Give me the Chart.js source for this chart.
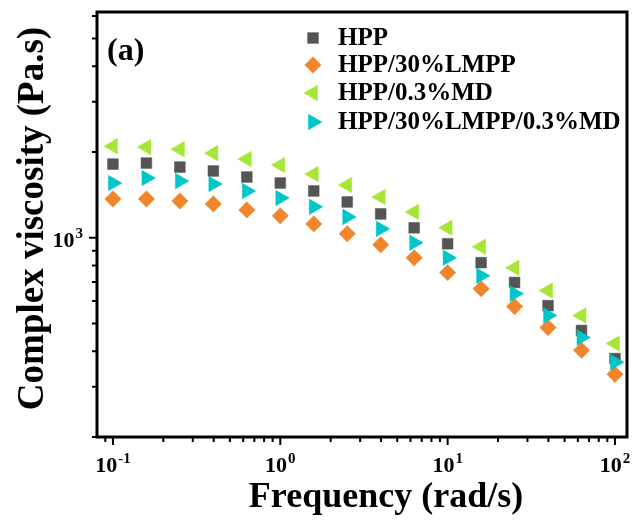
<!DOCTYPE html>
<html>
<head>
<meta charset="utf-8">
<script src="https://cdn.jsdelivr.net/npm/chart.js@4/dist/chart.umd.min.js"></script>
<style>
  html, body { margin: 0; padding: 0; background: #ffffff; }
  #wrap { width: 632px; height: 521px; }
</style>
</head>
<body>
<div id="wrap"><canvas id="c" width="632" height="521"></canvas></div>
<script>
// Angular frequency sweep (rad/s)
const frequency = [0.1, 0.1585, 0.2512, 0.3981, 0.631, 1, 1.585, 2.512, 3.981, 6.31, 10, 15.85, 25.12, 39.81, 63.1, 100];

// Complex viscosity (Pa.s) for each formulation
const hpp       = [1814, 1829, 1771, 1716, 1634, 1557, 1460, 1336, 1213, 1084, 953, 818, 697, 578, 473, 377];
const hppLmpp   = [1369, 1369, 1347, 1315, 1253, 1194, 1119, 1033, 945, 851, 755, 663, 574, 484, 403, 332];
const hppMd     = [2097, 2081, 2047, 1982, 1889, 1800, 1674, 1532, 1391, 1233, 1084, 930, 785, 653, 534, 426];
const hppLmppMd = [1557, 1621, 1582, 1544, 1460, 1380, 1284, 1184, 1075, 961, 851, 736, 637, 534, 447, 366];

const seriesNames = ['HPP', 'HPP/30%LMPP', 'HPP/0.3%MD', 'HPP/30%LMPP/0.3%MD'];
const xTickExponents = [-1, 0, 1, 2];
const yTickExponents = [3];
const panelLabel = '(a)';
const xTitle = 'Frequency (rad/s)';
const yTitle = 'Complex viscosity (Pa.s)';

const SERIF = '"Liberation Serif", "Times New Roman", serif';

function toPoints(ys) {
  return frequency.map((f, i) => ({ x: f, y: ys[i] }));
}

const datasets = [
  { label: seriesNames[0], data: toPoints(hpp), pointStyle: 'rect', pointRadius: 7.6,
    backgroundColor: '#555555', borderColor: '#555555', borderWidth: 0.5, order: 4 },
  { label: seriesNames[1], data: toPoints(hppLmpp), pointStyle: 'rectRot', pointRadius: 8.2,
    backgroundColor: '#f0852d', borderColor: '#f0852d', borderWidth: 0.5, order: 3 },
  { label: seriesNames[2], data: toPoints(hppMd), pointStyle: 'triangle', pointRotation: -90, pointRadius: 9,
    backgroundColor: '#a6e636', borderColor: '#a6e636', borderWidth: 0.5, order: 2 },
  { label: seriesNames[3], data: toPoints(hppLmppMd), pointStyle: 'triangle', pointRotation: 90, pointRadius: 9,
    backgroundColor: '#00c6c8', borderColor: '#00c6c8', borderWidth: 0.5, order: 1 }
];
datasets.forEach(d => { d.showLine = false; d.pointHoverRadius = d.pointRadius; d.clip = false; });

function drawMarker(ctx, ds, x, y) {
  const opts = {
    pointStyle: ds.pointStyle, rotation: ds.pointRotation || 0,
    radius: ds.pointRadius, borderWidth: ds.borderWidth
  };
  ctx.save();
  ctx.fillStyle = ds.backgroundColor;
  ctx.strokeStyle = ds.borderColor;
  ctx.lineWidth = ds.borderWidth;
  if (Chart.helpers && Chart.helpers.drawPoint) {
    Chart.helpers.drawPoint(ctx, opts, x, y);
  } else {
    ctx.beginPath(); ctx.arc(x, y, ds.pointRadius * 0.7, 0, Math.PI * 2); ctx.fill();
  }
  ctx.restore();
}

function powerLabel(ctx, exp, x, y, align) {
  const base = '10', sup = String(exp);
  ctx.font = 'bold 22px ' + SERIF;
  const bw = ctx.measureText(base).width;
  ctx.font = 'bold 15px ' + SERIF;
  const ew = ctx.measureText(sup).width;
  const total = bw + ew + 1;
  let start = align === 'right' ? x - total : x - total / 2;
  ctx.textAlign = 'left';
  ctx.textBaseline = 'alphabetic';
  ctx.font = 'bold 22px ' + SERIF;
  ctx.fillText(base, start, y);
  ctx.font = 'bold 15px ' + SERIF;
  ctx.fillText(sup, start + bw + 1, y - 9);
}

const decorations = {
  id: 'decorations',
  afterDraw(chart) {
    const ctx = chart.ctx;
    const a = chart.chartArea;
    const xs = chart.scales.x, ys = chart.scales.y;
    ctx.save();
    ctx.fillStyle = '#000';
    ctx.strokeStyle = '#000';

    // frame
    ctx.lineWidth = 3;
    ctx.strokeRect(a.left, a.top, a.right - a.left, a.bottom - a.top);

    // log ticks, outward, longer at decades
    ctx.lineWidth = 2;
    const tickSet = (scale, cb) => {
      const lo = Math.floor(Math.log10(scale.min)), hi = Math.ceil(Math.log10(scale.max));
      for (let e = lo; e <= hi; e++) {
        for (let k = 1; k <= 9; k++) {
          const v = k * Math.pow(10, e);
          if (v < scale.min * 0.999 || v > scale.max * 1.001) continue;
          cb(scale.getPixelForValue(v), k === 1 ? 7 : 4);
        }
      }
    };
    ctx.beginPath();
    tickSet(xs, (px, len) => { ctx.moveTo(px, a.bottom + 1); ctx.lineTo(px, a.bottom + 1 + len); });
    tickSet(ys, (py, len) => { ctx.moveTo(a.left - 1, py); ctx.lineTo(a.left - 1 - len, py); });
    ctx.stroke();

    // decade labels
    xTickExponents.forEach(e => {
      const px = xs.getPixelForValue(Math.pow(10, e));
      powerLabel(ctx, e, px, a.bottom + 35, 'center');
    });
    yTickExponents.forEach(e => {
      const py = ys.getPixelForValue(Math.pow(10, e));
      powerLabel(ctx, e, a.left - 14, py + 9, 'right');
    });

    // axis titles
    ctx.font = 'bold 36px ' + SERIF;
    ctx.textAlign = 'center';
    ctx.textBaseline = 'alphabetic';
    ctx.fillText(xTitle, (a.left + a.right) / 2 + 24, a.bottom + 70);
    ctx.save();
    ctx.font = 'bold 37px ' + SERIF;
    ctx.translate(43, (a.top + a.bottom) / 2 - 6);
    ctx.rotate(-Math.PI / 2);
    ctx.fillText(yTitle, 0, 0);
    ctx.restore();

    // panel label
    ctx.font = 'bold 32px ' + SERIF;
    ctx.textAlign = 'left';
    ctx.fillText(panelLabel, a.left + 10, a.top + 48);

    // legend
    const rowY = [26, 53, 81, 110];
    chart.data.datasets.forEach((ds, i) => {
      const y = a.top + rowY[i];
      drawMarker(ctx, ds, a.left + 216, y);
      ctx.fillStyle = '#000';
      ctx.font = 'bold 25px ' + SERIF;
      ctx.textAlign = 'left';
      ctx.textBaseline = 'middle';
      ctx.fillText(ds.label, a.left + 241, y + 1);
    });
    ctx.restore();
  }
};

new Chart(document.getElementById('c'), {
  type: 'scatter',
  data: { datasets },
  options: {
    responsive: false,
    animation: false,
    devicePixelRatio: 1,
    layout: { autoPadding: false, padding: { top: 12, right: 5, left: 0, bottom: 0 } },
    plugins: { legend: { display: false }, tooltip: { enabled: false } },
    scales: {
      x: {
        type: 'logarithmic', min: 0.0803, max: 118,
        ticks: { display: false }, grid: { display: false }, border: { display: false },
        afterFit(s) { s.height = 84; }
      },
      y: {
        type: 'logarithmic', min: 200, max: 6200,
        ticks: { display: false }, grid: { display: false }, border: { display: false },
        afterFit(s) { s.width = 97; }
      }
    }
  },
  plugins: [decorations]
});
</script>
</body>
</html>
